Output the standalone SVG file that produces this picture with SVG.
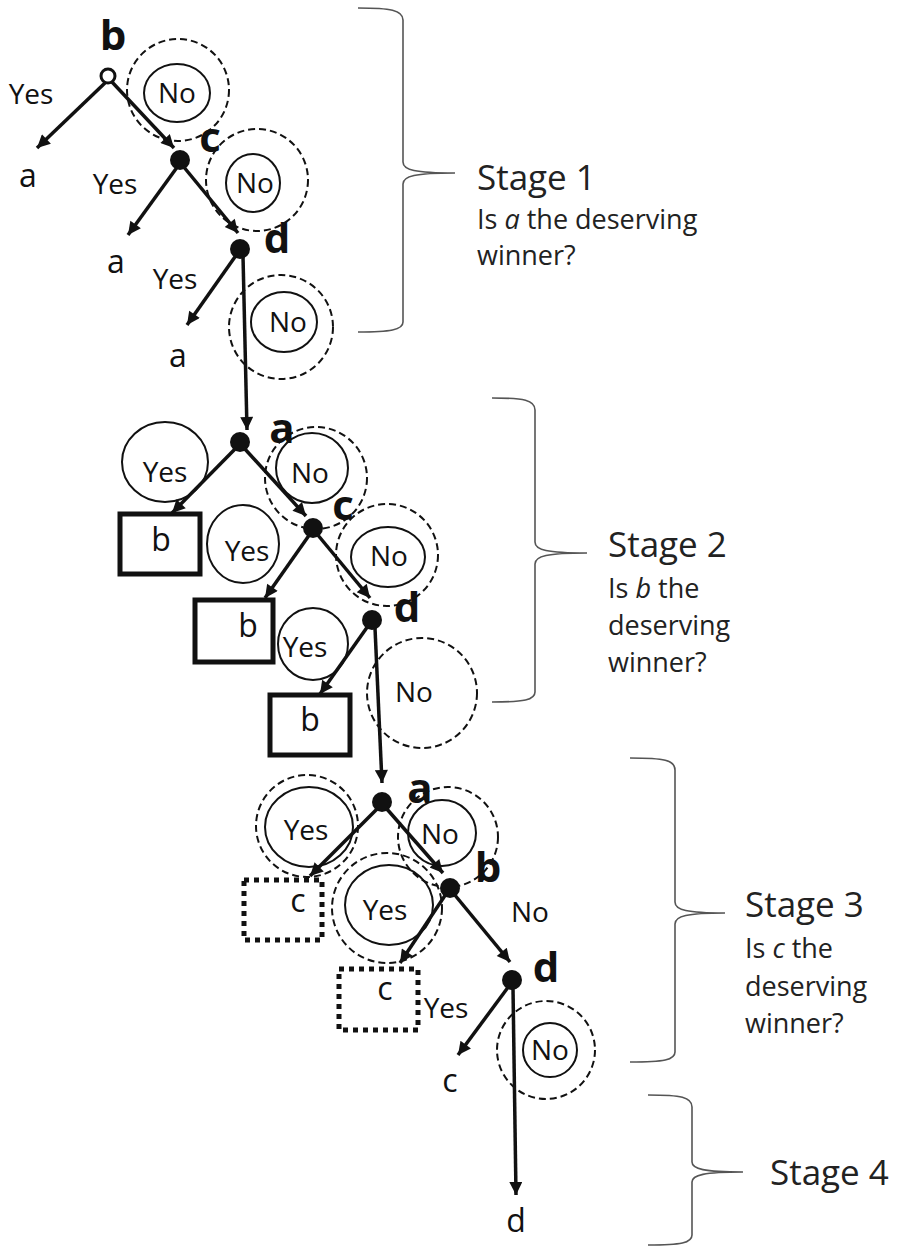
<svg xmlns="http://www.w3.org/2000/svg" width="899" height="1247" viewBox="0 0 899 1247">
<style>
text{font-family:"Open Sans","Noto Sans",sans-serif;fill:#111}
.lab{font-size:28px;text-anchor:middle}
.leaf{font-size:32px;text-anchor:middle}
.node{font-size:42px;font-weight:bold;text-anchor:middle}
.stage{font-size:35px;fill:#222}
.q{font-size:27px;fill:#222}
.ring{fill:none;stroke:#111;stroke-width:2}
.dash{fill:none;stroke:#111;stroke-width:2;stroke-dasharray:7 4}
.box{fill:none;stroke:#111;stroke-width:5}
.dbox{fill:none;stroke:#111;stroke-width:5;stroke-dasharray:5 5}
.dot{fill:#111}
.arr{stroke:#111;stroke-width:3.5;fill:none;marker-end:url(#ah)}
.brace{fill:none;stroke:#555;stroke-width:1.6}
</style>
<defs>
<marker id="ah" viewBox="0 0 10 10" refX="10" refY="5" markerWidth="16" markerHeight="13" markerUnits="userSpaceOnUse" orient="auto">
<path d="M0,0 L10,5 L0,10 z" fill="#111"/>
</marker>
</defs>

<!-- Stage 1 -->
<g id="s1-b">
<circle cx="108" cy="76" r="7" fill="#fff" stroke="#111" stroke-width="3"/>
<text class="node" x="113" y="50">b</text>
</g>
<g id="s1-no1">
<ellipse class="ring" cx="177" cy="93" rx="33" ry="29"/>
<circle class="dash" cx="178" cy="90" r="51"/>
<text class="lab" x="177" y="103">No</text>
</g>
<g id="s1-c">
<circle class="dot" cx="180" cy="160" r="10"/>
<text class="node" x="210" y="152">c</text>
</g>
<g id="s1-no2">
<ellipse class="ring" cx="253" cy="183" rx="27" ry="29"/>
<circle class="dash" cx="257" cy="180" r="51"/>
<text class="lab" x="255" y="193">No</text>
</g>
<g id="s1-d">
<circle class="dot" cx="240" cy="249" r="10"/>
<text class="node" x="277" y="253">d</text>
</g>
<g id="s1-no3">
<ellipse class="ring" cx="284" cy="322" rx="33" ry="30"/>
<circle class="dash" cx="281" cy="327" r="52"/>
<text class="lab" x="288" y="332">No</text>
</g>
<g id="s1-labels">
<text class="lab" x="31" y="104">Yes</text>
<text class="lab" x="115" y="194">Yes</text>
<text class="lab" x="175" y="289">Yes</text>
<text class="leaf" x="28" y="187">a</text>
<text class="leaf" x="116" y="273">a</text>
<text class="leaf" x="178" y="367">a</text>
</g>

<!-- Stage 2 -->
<g id="s2-a">
<circle class="dot" cx="240" cy="442" r="10"/>
<text class="node" x="282" y="443">a</text>
</g>
<g id="s2-yes1">
<ellipse class="ring" cx="165" cy="462" rx="43" ry="40"/>
<text class="lab" x="165" y="482">Yes</text>
</g>
<g id="s2-b1">
<rect class="box" x="120" y="514" width="80" height="60"/>
<text class="leaf" x="161" y="551">b</text>
</g>
<g id="s2-no1">
<ellipse class="ring" cx="312" cy="468" rx="36" ry="35"/>
<circle class="dash" cx="316" cy="478" r="51"/>
<text class="lab" x="310" y="483">No</text>
</g>
<g id="s2-c">
<circle class="dot" cx="313" cy="528" r="10"/>
<text class="node" x="343" y="520">c</text>
</g>
<g id="s2-yes2">
<ellipse class="ring" cx="243" cy="544" rx="36" ry="39"/>
<text class="lab" x="247" y="561">Yes</text>
</g>
<g id="s2-b2">
<rect class="box" x="195" y="600" width="78" height="62"/>
<text class="leaf" x="248" y="637">b</text>
</g>
<g id="s2-no2">
<ellipse class="ring" cx="388" cy="557" rx="37" ry="30"/>
<circle class="dash" cx="387" cy="555" r="51"/>
<text class="lab" x="389" y="566">No</text>
</g>
<g id="s2-d">
<circle class="dot" cx="372" cy="620" r="10"/>
<text class="node" x="407" y="622">d</text>
</g>
<g id="s2-yes3">
<ellipse class="ring" cx="313" cy="644" rx="35" ry="36"/>
<text class="lab" x="305" y="657">Yes</text>
</g>
<g id="s2-b3">
<rect class="box" x="270" y="695" width="80" height="60"/>
<text class="leaf" x="310" y="731">b</text>
</g>
<g id="s2-no3">
<circle class="dash" cx="422" cy="693" r="55"/>
<text class="lab" x="414" y="702">No</text>
</g>

<!-- Stage 3 -->
<g id="s3-a">
<circle class="dot" cx="382" cy="802" r="10"/>
<text class="node" x="420" y="803">a</text>
</g>
<g id="s3-yes1">
<ellipse class="ring" cx="309" cy="827" rx="44" ry="40"/>
<circle class="dash" cx="307" cy="826" r="51"/>
<text class="lab" x="306" y="840">Yes</text>
</g>
<g id="s3-c1">
<rect class="dbox" x="244" y="880" width="78" height="60"/>
<text class="leaf" x="298" y="912">c</text>
</g>
<g id="s3-no1">
<ellipse class="ring" cx="442" cy="833" rx="34" ry="33"/>
<circle class="dash" cx="448" cy="837" r="50"/>
<text class="lab" x="440" y="844">No</text>
</g>
<g id="s3-b">
<circle class="dot" cx="450" cy="888" r="10"/>
<text class="node" x="488" y="882">b</text>
</g>
<g id="s3-yes2">
<ellipse class="ring" cx="389" cy="905" rx="44" ry="40"/>
<circle class="dash" cx="387" cy="908" r="55"/>
<text class="lab" x="385" y="920">Yes</text>
</g>
<g id="s3-c2">
<rect class="dbox" x="339" y="969" width="79" height="61"/>
<text class="leaf" x="385" y="1000">c</text>
</g>
<g id="s3-d">
<circle class="dot" cx="512" cy="980" r="10"/>
<text class="node" x="546" y="982">d</text>
</g>
<g id="s3-no3">
<ellipse class="ring" cx="550" cy="1050" rx="27" ry="27"/>
<circle class="dash" cx="546" cy="1050" r="49"/>
<text class="lab" x="550" y="1060">No</text>
</g>
<g id="s3-labels">
<text class="lab" x="530" y="922">No</text>
<text class="lab" x="446" y="1018">Yes</text>
<text class="leaf" x="450" y="1092">c</text>
<text class="leaf" x="516" y="1232">d</text>
</g>

<!-- Connectors -->
<g id="connectors">
<line class="arr" x1="106" y1="82" x2="37" y2="148"/>
<line class="arr" x1="112" y1="82" x2="174" y2="148"/>
<line class="arr" x1="178" y1="166" x2="128" y2="235"/>
<line class="arr" x1="183" y1="166" x2="238" y2="233"/>
<line class="arr" x1="237" y1="254" x2="187" y2="325"/>
<line class="arr" x1="243" y1="256" x2="247" y2="430"/>
<line class="arr" x1="236" y1="448" x2="172" y2="513"/>
<line class="arr" x1="244" y1="448" x2="306" y2="516"/>
<line class="arr" x1="310" y1="534" x2="265" y2="598"/>
<line class="arr" x1="317" y1="534" x2="370" y2="598"/>
<line class="arr" x1="368" y1="626" x2="320" y2="694"/>
<line class="arr" x1="375" y1="628" x2="382" y2="783"/>
<line class="arr" x1="378" y1="808" x2="310" y2="876"/>
<line class="arr" x1="386" y1="808" x2="443" y2="873"/>
<line class="arr" x1="446" y1="894" x2="400" y2="963"/>
<line class="arr" x1="454" y1="894" x2="510" y2="962"/>
<line class="arr" x1="509" y1="986" x2="458" y2="1055"/>
<line class="arr" x1="513" y1="988" x2="516" y2="1195"/>
</g>

<!-- Braces and stage texts -->
<g id="stage1">
<path class="brace" d="M358,8 C390,8 403,10 403,20 L403,162 C403,170 415,173 455,173 C415,173 403,176 403,184 L403,322 C403,330 390,332 358,332"/>
<text class="stage" x="477" y="190">Stage 1</text>
<text class="q" x="477" y="229">Is <tspan font-style="italic">a</tspan> the deserving</text>
<text class="q" x="477" y="265">winner?</text>
</g>
<g id="stage2">
<path class="brace" d="M492,398 C524,398 535,400 535,410 L535,542 C535,550 547,553 587,553 C547,553 535,556 535,564 L535,692 C535,700 524,702 492,702"/>
<text class="stage" x="608" y="557">Stage 2</text>
<text class="q" x="608" y="598">Is <tspan font-style="italic">b</tspan> the</text>
<text class="q" x="608" y="635">deserving</text>
<text class="q" x="608" y="672">winner?</text>
</g>
<g id="stage3">
<path class="brace" d="M630,758 C664,758 675,760 675,770 L675,902 C675,910 687,913 725,913 C687,913 675,916 675,924 L675,1052 C675,1060 664,1062 630,1062"/>
<text class="stage" x="745" y="917">Stage 3</text>
<text class="q" x="745" y="958">Is <tspan font-style="italic">c</tspan> the</text>
<text class="q" x="745" y="996">deserving</text>
<text class="q" x="745" y="1033">winner?</text>
</g>
<g id="stage4">
<path class="brace" d="M648,1095 C681,1095 692,1097 692,1107 L692,1162 C692,1169 704,1172 743,1172 C704,1172 692,1175 692,1182 L692,1235 C692,1243 681,1245 648,1245"/>
<text class="stage" x="770" y="1185">Stage 4</text>
</g>
</svg>
